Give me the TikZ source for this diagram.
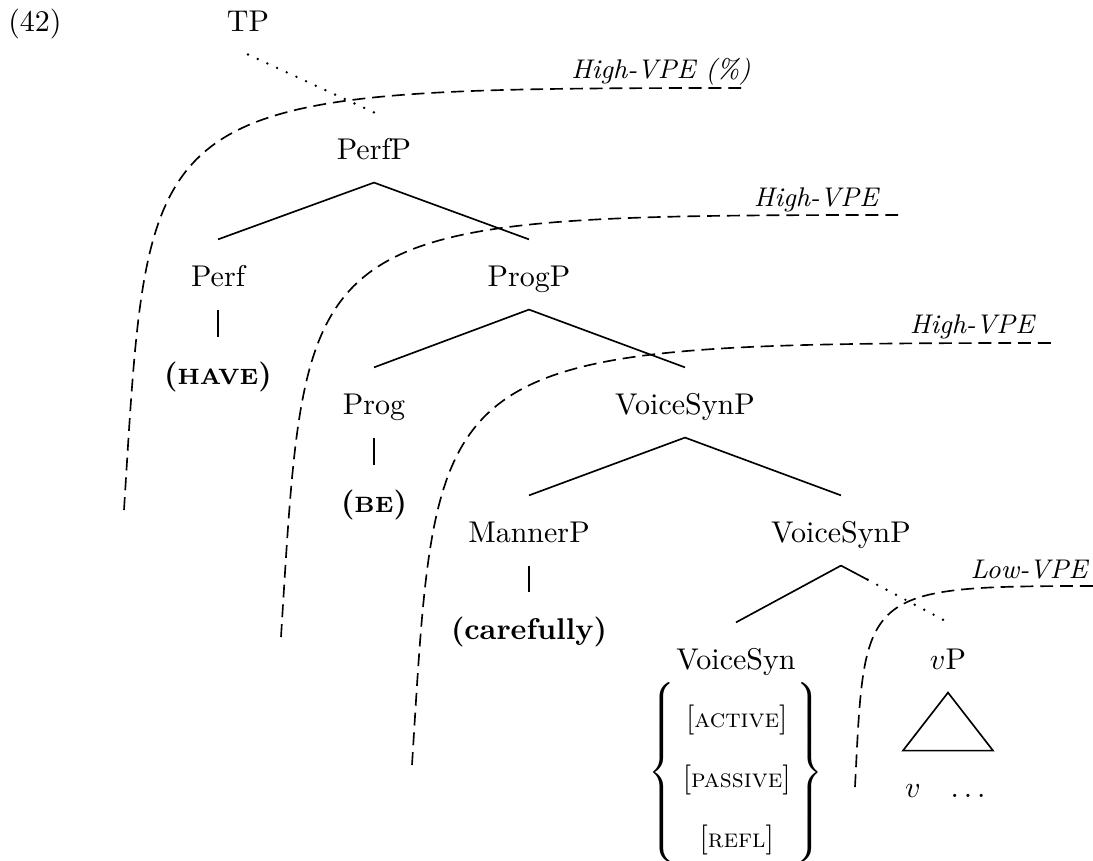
\documentclass[tikz,border=0pt]{standalone}
\usetikzlibrary{calc}
\newcommand{\boldsc}[1]{{\fontsize{7.4}{9}\selectfont\bfseries #1}}
\newcommand{\featsc}[1]{[{\fontsize{8.7}{10}\selectfont\scshape #1}]}
\begin{document}
\begin{tikzpicture}[x=0.33333pt,y=-0.33333pt,
  lab/.style={inner sep=0pt,text height=15.67pt,text depth=7.33pt,anchor=base},
  plain/.style={inner sep=0pt,anchor=base},
  branch/.style={line width=0.55pt},
  dotline/.style={line width=0.9pt,line cap=round,dash pattern=on 0pt off 3.55pt},
  vpe/.style={line width=0.55pt,dash pattern=on 4.3pt off 2.3pt},
  vpelab/.style={inner sep=0pt,anchor=base,font=\small\itshape},
]
\useasboundingbox (0,0) rectangle (1093,861);

% example number
\node[plain] (ex) at (35,32) {(42)};

% tree nodes
\node[lab] (TP) at (248,32) {TP};
\node[lab] (PerfP) at (374,160) {PerfP};
\node[lab] (Perf) at (218,287) {Perf};
\node[lab] (ProgP) at (529,287) {ProgP};
\node[lab] (have) at (218,385) {\textbf{(}\boldsc{HAVE}\textbf{)}};
\node[lab] (Prog) at (374,415) {Prog};
\node[lab] (VSP) at (685,415) {VoiceSynP};
\node[lab] (be) at (374,513) {\textbf{(}\boldsc{BE}\textbf{)}};
\node[lab] (MannerP) at (529,543) {MannerP};
\node[lab] (VSP2) at (841,543) {VoiceSynP};
\node[lab] (carefully) at (529,640) {\textbf{(carefully)}};
\node[lab] (VoiceSyn) at (736,670) {VoiceSyn};
\node[lab] (vP) at (948,670) {$v$P};

\node[inner sep=0pt] (feats) at (736,773) {$\left\{\begin{array}{@{\hspace{2.5pt}}c@{\hspace{2pt}}}
  \rule{0pt}{15.8pt}\mbox{\featsc{active}}\\[8pt]
  \mbox{\featsc{passive}}\\[8pt]
  \rule[-6.2pt]{0pt}{6.2pt}\mbox{\featsc{refl}}
\end{array}\right\}$};

\node[plain] (vv) at (913,798) {$v$};
\node[plain] (dots) at (968,798) {$\dots$};

% branches
\draw[dotline] (TP.south) -- (PerfP.north);
\draw[branch] (PerfP.south) -- (Perf.north);
\draw[branch] (PerfP.south) -- (ProgP.north);
\draw[branch] (Perf.south) -- (have.north);
\draw[branch] (ProgP.south) -- (Prog.north);
\draw[branch] (ProgP.south) -- (VSP.north);
\draw[branch] (Prog.south) -- (be.north);
\draw[branch] (VSP.south) -- (MannerP.north);
\draw[branch] (VSP.south) -- (VSP2.north);
\draw[branch] (MannerP.south) -- (carefully.north);
\draw[branch] (VSP2.south) -- (VoiceSyn.north);
\coordinate (vsplit) at ($(VSP2.south)!0.25!(vP.north)$);
\draw[branch] (VSP2.south) -- (vsplit);
\draw[dotline] (vsplit) -- (vP.north);

% triangle
\draw[branch] (vP.south) -- ++(-45,58) -- ++(90,0) -- cycle;

% ellipsis curves
\coordinate (c1a) at (124,510); \coordinate (c1b) at (744,88);
\coordinate (c2a) at (281,637); \coordinate (c2b) at (901,215);
\coordinate (c3a) at (412,765); \coordinate (c3b) at (1056,343);
\coordinate (c4a) at (855,787); \coordinate (c4b) at (1100,586);
\draw[vpe] (c1a) .. controls ($(c1a|-c1b)+(26,7)$) and ($(c1a|-c1b)+(11,0)$) .. (c1b);
\draw[vpe] (c2a) .. controls ($(c2a|-c2b)+(26,7)$) and ($(c2a|-c2b)+(11,0)$) .. (c2b);
\draw[vpe] (c3a) .. controls ($(c3a|-c3b)+(26,7)$) and ($(c3a|-c3b)+(11,0)$) .. (c3b);
\draw[vpe] (c4a) .. controls ($(c4a|-c4b)+(10,3)$) and ($(c4a|-c4b)+(4,0)$) .. (c4b);

\node[vpelab] (l1) at (661,79) {High-VPE (\%)};
\node[vpelab] (l2) at (816,207) {High-VPE};
\node[vpelab] (l3) at (972,334) {High-VPE};
\node[vpelab] (l4) at (1029,579) {Low-VPE};
\end{tikzpicture}
\end{document}
